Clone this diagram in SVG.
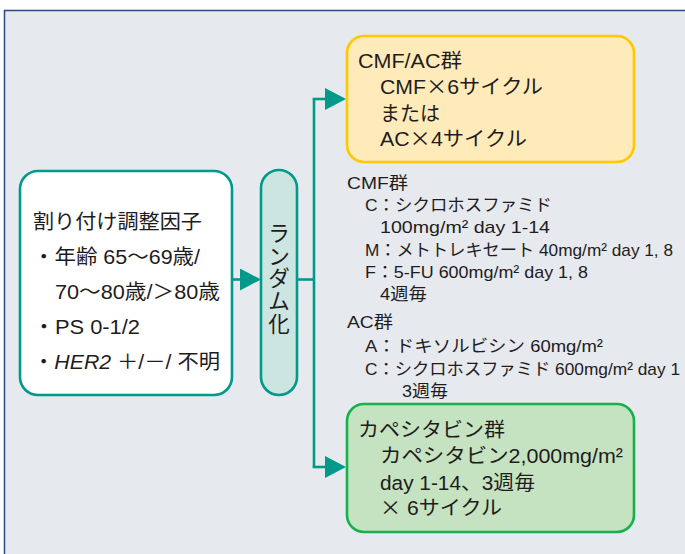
<svg xmlns="http://www.w3.org/2000/svg" width="685" height="554" viewBox="0 0 685 554">
<style>
.t{font-family:"Liberation Sans","Noto Sans CJK JP",sans-serif;fill:#1f1c1d}
.j{font-family:"Noto Sans CJK JP",sans-serif}
.l{font-size:20px}
.m{font-size:17px}
.b{font-size:20px}
.conn{fill:none;stroke:#00998a;stroke-width:2.6}
</style>
<defs>
<marker id="ah" markerUnits="userSpaceOnUse" markerWidth="22" markerHeight="22" refX="0" refY="11" orient="auto">
<path d="M0,0 L21,11 L0,22 Z" fill="#00998a"/>
</marker>
</defs>
<rect x="0" y="0" width="685" height="554" fill="#ffffff"/>
<rect x="4.5" y="10.5" width="700" height="560" fill="#e6e9ee" stroke="#2b4a80" stroke-width="1.5"/>

<g id="connectors">
<path class="conn" d="M232,279.5 H240" marker-end="url(#ah)"/>
<path class="conn" d="M297,279.5 H314"/>
<path class="conn" d="M314,99 V467"/>
<path class="conn" d="M312.7,99 H325" marker-end="url(#ah)"/>
<path class="conn" d="M312.7,467 H325" marker-end="url(#ah)"/>
</g>

<g id="factors">
<rect x="20" y="171" width="212" height="224" rx="18" fill="#ffffff" stroke="#00998a" stroke-width="2.6"/>
<text class="t l" x="33" y="229" textLength="169" lengthAdjust="spacingAndGlyphs">割り付け調整因子</text>
<text class="t l" x="33" y="264" textLength="167" lengthAdjust="spacingAndGlyphs">・年齢 65〜69歳/</text>
<text class="t l" x="55" y="299" textLength="165" lengthAdjust="spacingAndGlyphs">70〜80歳/＞80歳</text>
<text class="t l" x="33" y="334" textLength="107" lengthAdjust="spacingAndGlyphs">・PS 0-1/2</text>
<text class="t l" x="33" y="369" textLength="187" lengthAdjust="spacingAndGlyphs">・<tspan font-style="italic">HER2</tspan> ＋/－/ 不明</text>
</g>

<g id="random">
<rect x="261" y="170" width="36" height="225" rx="18" fill="#cde5e1" stroke="#00998a" stroke-width="2.6"/>
<text class="t" font-size="21.5" text-anchor="middle"><tspan x="279" y="241">ラ</tspan><tspan x="279" y="263.5">ン</tspan><tspan x="279" y="286">ダ</tspan><tspan x="279" y="308.5">ム</tspan><tspan x="279" y="332">化</tspan></text>
</g>

<g id="cmfac">
<rect x="347" y="36" width="287" height="126" rx="17" fill="#ffebb9" stroke="#ffc800" stroke-width="2.6"/>
<text class="t b" x="358" y="68" textLength="104" lengthAdjust="spacingAndGlyphs">CMF/AC群</text>
<text class="t b" x="380" y="94" textLength="163" lengthAdjust="spacingAndGlyphs">CMF<tspan class="j">×</tspan>6サイクル</text>
<text class="t b" x="380" y="121" textLength="60" lengthAdjust="spacingAndGlyphs">または</text>
<text class="t b" x="380" y="146" textLength="147" lengthAdjust="spacingAndGlyphs">AC<tspan class="j">×</tspan>4サイクル</text>
</g>

<g id="regimen">
<text class="t m" x="347" y="189" textLength="61" lengthAdjust="spacingAndGlyphs">CMF群</text>
<text class="t m" x="365" y="211" textLength="187" lengthAdjust="spacingAndGlyphs">C：シクロホスファミド</text>
<text class="t m" x="380" y="233" textLength="170" lengthAdjust="spacingAndGlyphs">100mg/m² day 1-14</text>
<text class="t m" x="365" y="256" textLength="308" lengthAdjust="spacingAndGlyphs">M：メトトレキセート 40mg/m² day 1, 8</text>
<text class="t m" x="365" y="278" textLength="223" lengthAdjust="spacingAndGlyphs">F：5-FU 600mg/m² day 1, 8</text>
<text class="t m" x="380" y="300" textLength="47" lengthAdjust="spacingAndGlyphs">4週毎</text>
<text class="t m" x="347" y="328" textLength="46" lengthAdjust="spacingAndGlyphs">AC群</text>
<text class="t m" x="365" y="352" textLength="238" lengthAdjust="spacingAndGlyphs">A：ドキソルビシン 60mg/m²</text>
<text class="t m" x="365" y="375" textLength="315" lengthAdjust="spacingAndGlyphs">C：シクロホスファミド 600mg/m² day 1</text>
<text class="t m" x="402" y="397" textLength="46" lengthAdjust="spacingAndGlyphs">3週毎</text>
</g>

<g id="cape">
<rect x="347" y="404" width="287" height="128" rx="17" fill="#c5e3c0" stroke="#17b14b" stroke-width="2.6"/>
<text class="t b" x="358" y="437" textLength="147" lengthAdjust="spacingAndGlyphs">カペシタビン群</text>
<text class="t b" x="380" y="463" textLength="243" lengthAdjust="spacingAndGlyphs">カペシタビン2,000mg/m²</text>
<text class="t b" x="380" y="490" textLength="155" lengthAdjust="spacingAndGlyphs">day 1-14、3週毎</text>
<text class="t b" x="380" y="515" textLength="122" lengthAdjust="spacingAndGlyphs"><tspan class="j">×</tspan> 6サイクル</text>
</g>
</svg>
